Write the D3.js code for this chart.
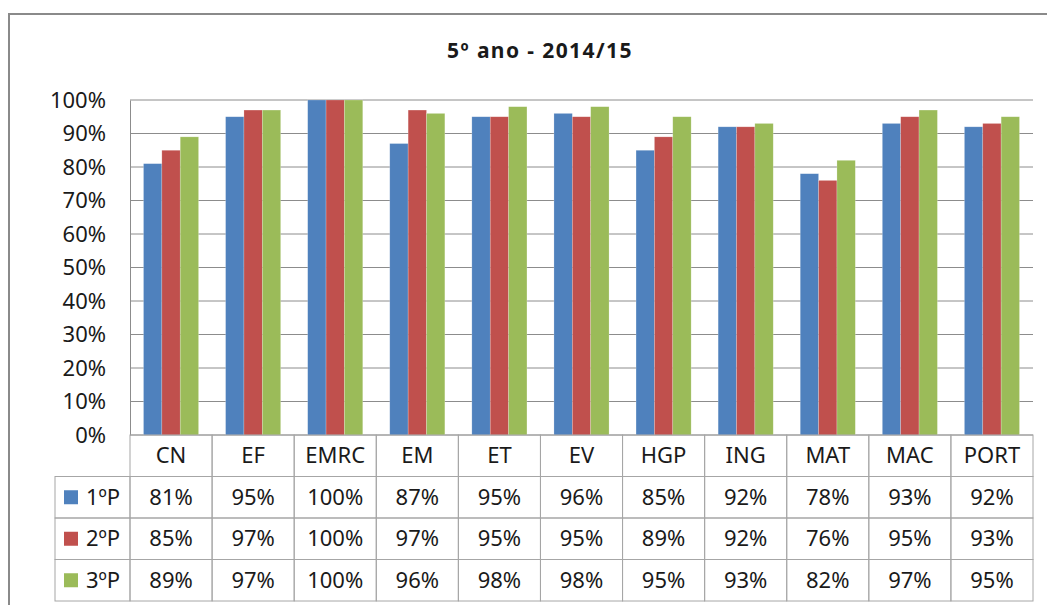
<!DOCTYPE html>
<html>
<head>
<meta charset="utf-8">
<script src="https://cdn.jsdelivr.net/npm/d3@7"></script>
<style>
  body { margin: 0; background: #fff; }
  svg text { font-family: "Noto Sans", "Open Sans", sans-serif; fill: #1a1a1a; }
</style>
</head>
<body>
<div id="root"></div>
<script>
// data
const categories = ['CN', 'EF', 'EMRC', 'EM', 'ET', 'EV', 'HGP', 'ING', 'MAT', 'MAC', 'PORT'];
const seriesNames = ['1ºP', '2ºP', '3ºP'];
const p1 = [81, 95, 100, 87, 95, 96, 85, 92, 78, 93, 92];
const p2 = [85, 97, 100, 97, 95, 95, 89, 92, 76, 95, 93];
const p3 = [89, 97, 100, 96, 98, 98, 95, 93, 82, 97, 95];
const yTicks = [0, 10, 20, 30, 40, 50, 60, 70, 80, 90, 100];
const colors = ['#4F81BD', '#C0504D', '#9BBB59'];

const series = [p1, p2, p3];

const width = 1047, height = 605;
const plotLeft = 130, plotRight = 1033, plotTop = 100, plotBottom = 435;
const rowH = 41.5, legendLeft = 55;

const svg = d3.select('#root').append('svg')
    .attr('width', width)
    .attr('height', height);

// outer chart border
svg.append('path')
    .attr('d', `M9,${height + 5}V14H${width + 5}`)
    .attr('fill', 'none')
    .attr('stroke', '#8a8a8a')
    .attr('stroke-width', 2);

// title
svg.append('text')
    .attr('x', 540)
    .attr('y', 58)
    .attr('text-anchor', 'middle')
    .style('font-size', '21px')
    .style('font-weight', 'bold')
    .style('letter-spacing', '1.4px')
    .text('5º ano - 2014/15');

// scales
const x0 = d3.scaleBand().domain(categories).range([plotLeft, plotRight]);
const x1 = d3.scaleBand().domain(seriesNames)
    .range([13.5, x0.bandwidth() - 13.5]);
const y = d3.scaleLinear().domain([0, 100]).range([plotBottom, plotTop]);

// gridlines
svg.append('g').selectAll('line')
    .data(yTicks)
    .enter().append('line')
    .attr('x1', plotLeft).attr('x2', plotRight)
    .attr('y1', d => y(d)).attr('y2', d => y(d))
    .attr('stroke', '#8c8c8c')
    .attr('stroke-width', 1);

// y axis
const yAxis = svg.append('g')
    .attr('transform', `translate(${plotLeft},0)`)
    .call(d3.axisLeft(y).tickValues(yTicks).tickFormat(d => d + '%').tickSize(0).tickPadding(24));
yAxis.select('.domain').attr('stroke', '#8c8c8c');
yAxis.selectAll('text')
    .style('font-size', '22px')
    .style('font-family', '"Noto Sans", sans-serif')
    .attr('fill', '#1a1a1a');

// bars
const groups = svg.append('g').selectAll('g')
    .data(categories)
    .enter().append('g')
    .attr('transform', d => `translate(${x0(d)},0)`);

groups.selectAll('rect')
    .data((c, i) => series.map((s, k) => ({ name: seriesNames[k], value: s[i], color: colors[k] })))
    .enter().append('rect')
    .attr('x', d => x1(d.name))
    .attr('width', x1.bandwidth())
    .attr('y', d => y(d.value))
    .attr('height', d => y(0) - y(d.value))
    .attr('fill', d => d.color)
    .attr('stroke', 'rgba(255,255,255,0.35)')
    .attr('stroke-width', 0.6);

// data table
const table = svg.append('g');
const gridColor = '#a6a6a6';

// header row cells
table.selectAll('.hcell')
    .data(categories)
    .enter().append('rect')
    .attr('class', 'hcell')
    .attr('x', d => x0(d))
    .attr('y', plotBottom)
    .attr('width', x0.bandwidth())
    .attr('height', rowH)
    .attr('fill', 'none')
    .attr('stroke', gridColor);

table.selectAll('.htext')
    .data(categories)
    .enter().append('text')
    .attr('class', 'htext')
    .attr('x', d => x0(d) + x0.bandwidth() / 2)
    .attr('y', plotBottom + rowH / 2)
    .attr('dy', '0.35em')
    .attr('text-anchor', 'middle')
    .style('font-size', '22px')
    .text(d => d);

// series rows
seriesNames.forEach((name, k) => {
    const ry = plotBottom + rowH * (k + 1);
    table.append('rect')
        .attr('x', legendLeft).attr('y', ry)
        .attr('width', plotLeft - legendLeft).attr('height', rowH)
        .attr('fill', 'none').attr('stroke', gridColor);
    table.append('rect')
        .attr('x', 64).attr('y', ry + rowH / 2 - 7)
        .attr('width', 14).attr('height', 14)
        .attr('fill', colors[k]);
    table.append('text')
        .attr('x', 86).attr('y', ry + rowH / 2)
        .attr('dy', '0.35em')
        .style('font-size', '22px')
        .text(name);

    table.selectAll('.c' + k)
        .data(categories)
        .enter().append('rect')
        .attr('x', d => x0(d)).attr('y', ry)
        .attr('width', x0.bandwidth()).attr('height', rowH)
        .attr('fill', 'none').attr('stroke', gridColor);

    table.selectAll('.t' + k)
        .data(series[k])
        .enter().append('text')
        .attr('x', (d, i) => x0(categories[i]) + x0.bandwidth() / 2)
        .attr('y', ry + rowH / 2)
        .attr('dy', '0.35em')
        .attr('text-anchor', 'middle')
        .style('font-size', '22px')
        .text(d => d + '%');
});
</script>
</body>
</html>
